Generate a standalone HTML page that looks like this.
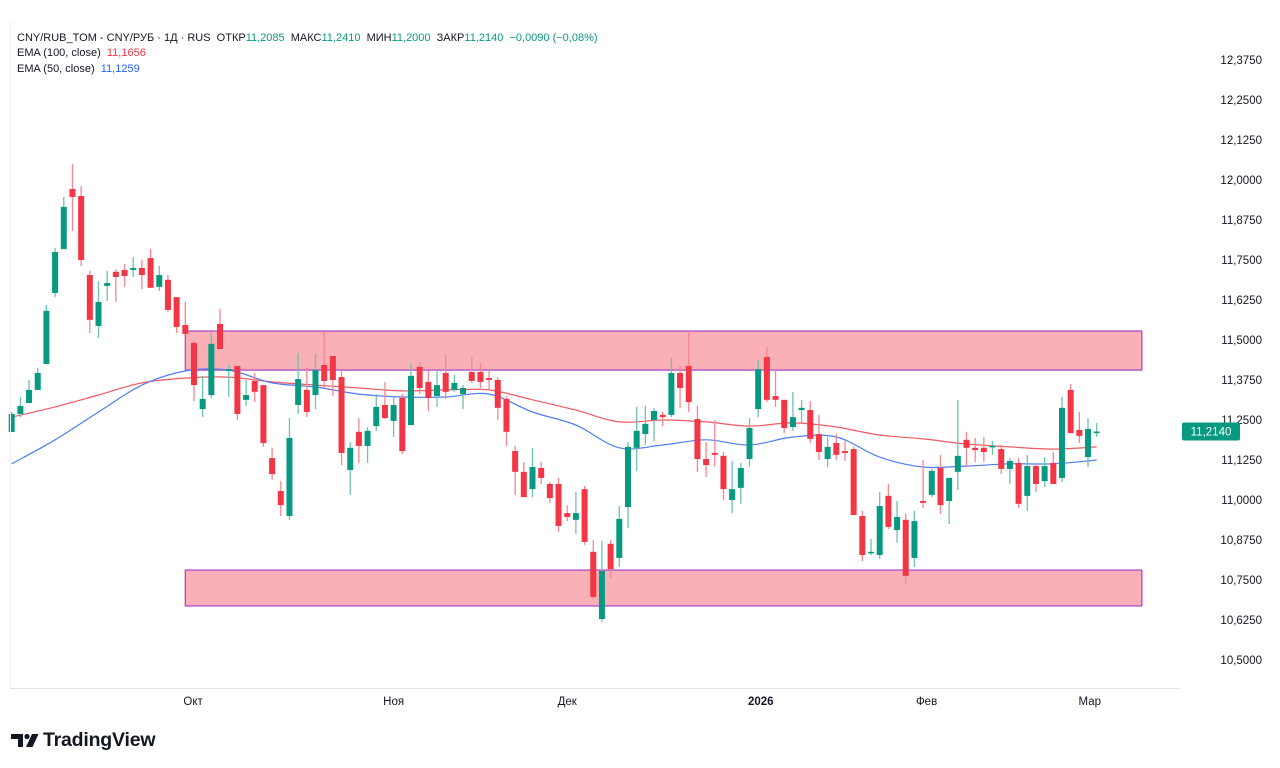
<!DOCTYPE html>
<html><head><meta charset="utf-8">
<style>
html,body{margin:0;padding:0;background:#fff;}
body{width:1280px;height:768px;position:relative;overflow:hidden;font-family:"Liberation Sans","DejaVu Sans",sans-serif;color:#131722;}
.legend{position:absolute;left:17px;font-size:11px;white-space:nowrap;}
.g{color:#089981}.r{color:#f23645}.b{color:#2962ff}
</style></head>
<body>
<svg id="chart" width="1280" height="768" style="position:absolute;left:0;top:0">
  <g id="boxes"></g>
  <g id="emas"></g>
  <g id="candles"></g>
  <line x1="10" y1="688.5" x2="1180" y2="688.5" stroke="#e0e3eb"/>
  <line x1="10.5" y1="20" x2="10.5" y2="688" stroke="#eef0f4"/>
  <g id="yticks"></g>
  <g id="xticks"></g>
  <g>
    <rect id="lastRect" x="1182" width="58" height="18" rx="2" fill="#089981"/>
    <text id="lastText" x="1211" font-size="11.5" fill="#fff" text-anchor="middle" font-family="Liberation Sans, sans-serif">11,2140</text>
  </g>
  <g fill="#131722">
    <path d="M11,734 h12 v13 h-5 v-8 h-7 z"/>
    <circle cx="27" cy="736.5" r="2.6"/>
    <path d="M32,734 h6.5 l-6,13 h-6.5 z"/>
  </g>
</svg>
<div class="legend" style="top:32px">CNY/RUB_TOM - CNY/РУБ · 1Д · RUS&nbsp; ОТКР<span class="g">11,2085</span>&nbsp; МАКС<span class="g">11,2410</span>&nbsp; МИН<span class="g">11,2000</span>&nbsp; ЗАКР<span class="g">11,2140</span>&nbsp; <span class="g">−0,0090 (−0,08%)</span></div>
<div class="legend" style="top:47px">EMA (100, close)&nbsp; <span class="r">11,1656</span></div>
<div class="legend" style="top:63px">EMA (50, close)&nbsp; <span class="b">11,1259</span></div>
<div style="position:absolute;left:43px;top:729px;font-size:19.5px;font-weight:bold;color:#131722;letter-spacing:-0.2px">TradingView</div>
<script>
const opens=[11.2125,11.269,11.303,11.344,11.425,11.647,11.784,11.972,11.95,11.703,11.544,11.669,11.713,11.719,11.719,11.725,11.756,11.666,11.688,11.634,11.547,11.491,11.284,11.328,11.55,11.403,11.419,11.313,11.372,11.359,11.131,11.028,10.95,11.297,11.344,11.328,11.422,11.45,11.384,11.094,11.213,11.169,11.231,11.297,11.247,11.319,11.234,11.416,11.369,11.325,11.397,11.344,11.331,11.4,11.4,11.381,11.375,11.316,11.153,11.088,11.034,11.1,11.05,11.05,10.959,10.938,11.034,10.838,10.628,10.863,10.819,10.978,11.163,11.206,11.25,11.266,11.266,11.397,11.419,11.253,11.128,11.147,11.138,11.0,11.038,11.128,11.284,11.447,11.325,11.313,11.228,11.281,11.281,11.206,11.128,11.178,11.153,11.159,10.95,10.834,10.828,11.013,10.906,10.938,10.819,10.997,11.016,11.1,10.997,11.088,11.188,11.163,11.163,11.166,11.159,11.097,11.116,11.013,11.106,11.059,11.116,11.069,11.344,11.219,11.134,11.209];
const highs=[11.275,11.322,11.375,11.413,11.609,11.788,11.947,12.05,11.981,11.716,11.684,11.716,11.722,11.738,11.759,11.75,11.784,11.731,11.703,11.634,11.619,11.497,11.388,11.522,11.597,11.422,11.419,11.375,11.397,11.359,11.163,11.059,11.256,11.459,11.413,11.456,11.525,11.45,11.403,11.181,11.256,11.228,11.331,11.369,11.322,11.331,11.428,11.431,11.403,11.406,11.453,11.391,11.359,11.447,11.428,11.406,11.384,11.325,11.169,11.119,11.163,11.119,11.056,11.069,10.984,11.025,11.044,10.875,10.872,10.875,10.981,11.181,11.291,11.294,11.288,11.275,11.444,11.419,11.522,11.294,11.181,11.25,11.15,11.122,11.116,11.256,11.438,11.478,11.409,11.313,11.338,11.313,11.309,11.266,11.197,11.206,11.184,11.166,10.966,10.878,11.025,11.05,10.997,10.959,10.966,11.125,11.097,11.141,11.069,11.313,11.213,11.194,11.197,11.184,11.172,11.131,11.131,11.141,11.113,11.134,11.15,11.322,11.363,11.275,11.256,11.241];
const lows=[11.2125,11.259,11.303,11.344,11.425,11.634,11.784,11.841,11.731,11.522,11.506,11.622,11.619,11.666,11.697,11.659,11.663,11.653,11.588,11.522,11.519,11.309,11.259,11.319,11.472,11.322,11.25,11.294,11.306,11.166,11.063,10.95,10.938,11.269,11.259,11.284,11.35,11.325,11.109,11.016,11.116,11.116,11.216,11.253,11.197,11.144,11.234,11.331,11.278,11.291,11.316,11.338,11.284,11.366,11.35,11.344,11.25,11.169,11.016,11.009,11.009,11.05,10.991,10.9,10.934,10.894,10.859,10.691,10.619,10.756,10.791,10.912,11.091,11.172,11.184,11.231,11.259,11.288,11.275,11.088,11.072,11.103,11.0,10.959,10.988,11.103,11.259,11.306,11.291,11.209,11.216,11.241,11.178,11.125,11.103,11.125,11.122,10.953,10.809,10.828,10.816,10.909,10.866,10.738,10.791,10.975,11.009,10.956,10.925,11.031,11.103,11.119,11.119,11.141,11.081,11.05,10.975,10.966,11.025,11.041,11.05,11.056,11.209,11.178,11.103,11.197];
const closes=[11.269,11.294,11.344,11.397,11.591,11.775,11.916,11.947,11.75,11.563,11.619,11.678,11.697,11.7,11.725,11.703,11.663,11.703,11.594,11.541,11.519,11.359,11.316,11.488,11.472,11.409,11.269,11.328,11.338,11.178,11.081,10.984,11.194,11.378,11.275,11.406,11.372,11.375,11.147,11.163,11.169,11.216,11.291,11.256,11.297,11.153,11.388,11.35,11.319,11.359,11.338,11.366,11.35,11.372,11.369,11.375,11.288,11.213,11.088,11.009,11.103,11.069,11.006,10.919,10.947,10.959,10.869,10.697,10.778,10.784,10.941,11.166,11.216,11.238,11.278,11.259,11.397,11.35,11.306,11.128,11.109,11.141,11.034,11.034,11.1,11.225,11.409,11.313,11.313,11.225,11.259,11.288,11.191,11.15,11.166,11.141,11.147,10.953,10.828,10.838,10.981,10.916,10.947,10.763,10.934,10.991,11.091,10.984,11.069,11.138,11.163,11.156,11.15,11.169,11.097,11.122,10.988,11.106,11.05,11.106,11.05,11.288,11.209,11.2,11.222,11.214];
// EMA values sampled every 5 bars
const emaIndex=[0,5,10,15,20,25,30,35,40,45,50,55,60,65,70,75,80,85,90,95,100,105,110,115,120,125];
const ema100=[11.259,11.291,11.328,11.366,11.381,11.384,11.369,11.359,11.35,11.341,11.344,11.344,11.313,11.281,11.244,11.25,11.244,11.231,11.241,11.228,11.203,11.191,11.175,11.166,11.159,11.166];
const ema50=[11.113,11.188,11.275,11.359,11.403,11.406,11.366,11.353,11.331,11.322,11.322,11.331,11.275,11.234,11.163,11.172,11.188,11.172,11.197,11.197,11.134,11.103,11.106,11.113,11.113,11.125];
const yTickValues=[12.375,12.25,12.125,12.0,11.875,11.75,11.625,11.5,11.375,11.25,11.125,11.0,10.875,10.75,10.625,10.5];
const xTickLabels=["Окт","Ноя","Дек","2026","Фев","Мар"];
const xTickIndex=[20.9,44,64,86.3,105.4,124.2];
const boxTop=[11.528,11.406,20,130.2];
const boxBottom=[10.781,10.669,20,130.2];
const lastPrice=11.214;

const NS="http://www.w3.org/2000/svg";
function yS(p){return 60+(12.375-p)*320;}
function xS(i){return 11.7+i*8.68;}
function mk(tag,attrs,parent){const e=document.createElementNS(NS,tag);for(const k in attrs)e.setAttribute(k,attrs[k]);parent.appendChild(e);return e;}
const gB=document.getElementById('boxes'),gE=document.getElementById('emas'),gC=document.getElementById('candles'),gY=document.getElementById('yticks'),gX=document.getElementById('xticks');
[boxTop,boxBottom].forEach((b,k)=>{
  const r=mk('rect',{x:xS(b[2]),y:yS(b[0]),width:xS(b[3])-xS(b[2]),height:yS(b[1])-yS(b[0]),fill:'#f9b0b6',stroke:'#b449c8','stroke-width':1.3},gB);
  
  
});
function line(arr,color,name){
  const P=arr.map((v,i)=>[xS(emaIndex[i]),yS(v)]);
  let d='M'+P[0][0].toFixed(1)+','+P[0][1].toFixed(1);
  for(let i=0;i<P.length-1;i++){
    const p0=P[Math.max(0,i-1)],p1=P[i],p2=P[i+1],p3=P[Math.min(P.length-1,i+2)];
    const c1=[p1[0]+(p2[0]-p0[0])/6,p1[1]+(p2[1]-p0[1])/6];
    const c2=[p2[0]-(p3[0]-p1[0])/6,p2[1]-(p3[1]-p1[1])/6];
    d+=' C'+c1.map(n=>n.toFixed(1)).join(',')+' '+c2.map(n=>n.toFixed(1)).join(',')+' '+p2.map(n=>n.toFixed(1)).join(',');
  }
  const p=mk('path',{d:d,fill:'none',stroke:color,'stroke-width':1.2},gE);
  
  
}
line(ema100,'#f05a64','ema100-line');
line(ema50,'#4f7df5','ema50-line');
for(let i=0;i<opens.length;i++){
  const up=closes[i]>=opens[i];const col=up?'#089981':'#f23645';const wc=up?'#6cc3b0':'#f7858f';
  const g=mk('g',{},gC);
  
  
  const x=xS(i);
  mk('line',{x1:x,x2:x,y1:yS(highs[i]),y2:yS(lows[i]),stroke:wc,'stroke-width':1.3},g);
  const t=yS(Math.max(opens[i],closes[i])),bt=yS(Math.min(opens[i],closes[i]));
  mk('rect',{x:x-3,y:t,width:6,height:Math.max(1.5,bt-t),fill:col},g);
}
yTickValues.forEach(v=>{
  const t=mk('text',{x:1262,y:yS(v)+4,'font-size':11.5,fill:'#131722','text-anchor':'end'},gY);
  t.textContent=v.toFixed(4).replace('.',',');
  
  
});
xTickLabels.forEach((s,i)=>{
  const t=mk('text',{x:xS(xTickIndex[i]),y:705,'font-size':11.5,fill:'#131722','text-anchor':'middle','font-weight':s==='2026'?'bold':'normal'},gX);
  t.textContent=s;
  
  
});
document.getElementById('lastRect').setAttribute('y',yS(lastPrice)-9);
document.getElementById('lastText').setAttribute('y',yS(lastPrice)+4);
</script>
</body></html>
